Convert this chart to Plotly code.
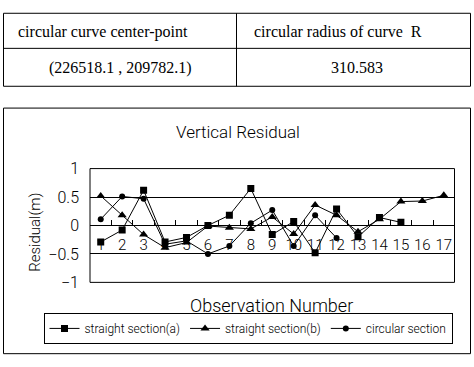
import plotly.graph_objects as go

W, H = 474, 367

obs = list(range(1, 18))
tick_labels = [str(i) for i in obs]
straight_a = [-0.29, -0.08, 0.62, -0.29, -0.21, 0.0, 0.18, 0.65, -0.16, 0.07, -0.48, 0.29, -0.2, 0.14, 0.055, None, None]
straight_b = [0.52, 0.18, -0.16, -0.39, -0.3, -0.01, -0.04, -0.06, 0.15, -0.15, 0.36, 0.18, -0.11, 0.11, 0.42, 0.43, 0.53]
circular = [0.11, 0.51, 0.47, -0.33, -0.27, -0.5, -0.36, 0.04, 0.27, -0.36, 0.18, -0.22, None, None, None, None, None]

table_header = ["circular curve center-point", "circular radius of curve  R"]
table_values = ["(226518.1 , 209782.1)", "310.583"]

SANS = "Roboto"
SERIF = "Liberation Serif"


def nf(size):
    return dict(family=SANS, size=size, color="black", weight=300)


def px(x):
    return x / W


def py(y):
    return 1 - y / H


plot_l, plot_r, plot_t, plot_b = 90, 454.5, 168.3, 288.3
dom_x = [px(plot_l), px(plot_r)]
dom_y = [py(plot_b), py(plot_t)]
zero_pos = dom_y[0] + (dom_y[1] - dom_y[0]) / 2

fig = go.Figure()
series = [
    ("straight section(a)", straight_a, "square", 7),
    ("straight section(b)", straight_b, "triangle-up", 8),
    ("circular section", circular, "circle", 6),
]
for name, vals, sym, size in series:
    fig.add_trace(go.Scatter(
        x=obs, y=vals, name=name, mode="lines+markers",
        line=dict(color="black", width=1),
        marker=dict(symbol=sym, size=size, color="black"),
        connectgaps=False,
    ))

shapes = [
    dict(type="rect", xref="paper", yref="paper", x0=px(3.5), x1=px(470.5), y0=py(81.5), y1=py(4.5),
         line=dict(color="black", width=1)),
    dict(type="line", xref="paper", yref="paper", x0=px(3.5), x1=px(470.5), y0=py(41.5), y1=py(41.5),
         line=dict(color="black", width=1)),
    dict(type="line", xref="paper", yref="paper", x0=px(236.5), x1=px(236.5), y0=py(81.5), y1=py(4.5),
         line=dict(color="black", width=1)),
    dict(type="rect", xref="paper", yref="paper", x0=px(3.5), x1=px(470.5), y0=py(363.5), y1=py(104.5),
         line=dict(color="black", width=1)),
    dict(type="rect", xref="x domain", yref="y domain", x0=0, x1=1, y0=0, y1=1,
         line=dict(color="black", width=1)),
]

annotations = [
    dict(text=table_header[0], x=px(103), y=py(24)),
    dict(text=table_header[1], x=px(338), y=py(24)),
    dict(text=table_values[0], x=px(120), y=py(62)),
    dict(text=table_values[1], x=px(357), y=py(62)),
]
for a in annotations:
    a.update(xref="paper", yref="paper", showarrow=False, xanchor="center", yanchor="middle",
             font=dict(family=SERIF, size=16, color="black"))

annotations += [
    dict(text="Vertical Residual", x=px(237.5), y=py(130), xref="paper", yref="paper", showarrow=False,
         xanchor="center", yanchor="middle", font=nf(17)),
    dict(text="Observation Number", x=px(271.7), y=py(313), xref="paper", yref="paper", showarrow=False,
         xanchor="center", yanchor="middle", font=nf(18)),
    dict(text="Residual(m)", x=px(35), y=py(236), xref="paper", yref="paper", showarrow=False,
         textangle=-90, xanchor="center", yanchor="middle", font=nf(15)),
]

fig.update_layout(
    width=W, height=H, autosize=False,
    margin=dict(l=0, r=0, t=0, b=0),
    paper_bgcolor="white", plot_bgcolor="white",
    shapes=shapes, annotations=annotations,
    showlegend=True,
    legend=dict(
        orientation="h", x=px(43.5), y=py(320.5), xanchor="left", yanchor="top",
        bordercolor="black", borderwidth=1, bgcolor="white",
        font=nf(12), itemwidth=30, tracegroupgap=0,
    ),
    xaxis=dict(
        domain=dom_x, range=[0.5, 17.5], anchor="free", position=zero_pos,
        tickvals=obs, ticktext=tick_labels, ticks="", tickangle=0,
        showline=False, showgrid=False, zeroline=False,
        tickfont=nf(15), ticklabelstandoff=9,
    ),
    xaxis2=dict(
        domain=dom_x, range=[0.5, 17.5], overlaying="x", anchor="free", position=zero_pos,
        tickvals=[i + 0.5 for i in obs[:-1]], ticks="inside", ticklen=5, tickcolor="black", tickwidth=1,
        showticklabels=False, showline=False, showgrid=False, zeroline=False,
    ),
    yaxis=dict(
        domain=dom_y, range=[-1, 1], dtick=0.5, tick0=0,
        showgrid=True, gridcolor="black", gridwidth=1,
        zeroline=True, zerolinecolor="black", zerolinewidth=1,
        showline=False, ticks="", ticklabelstandoff=10,
        tickfont=nf(16),
    ),
)
fig.add_trace(go.Scatter(x=[None], y=[None], xaxis="x2", showlegend=False, hoverinfo="skip"))

fig.write_html("out.html", config={"displayModeBar": False},
               post_script="document.body.style.margin='0';document.body.style.overflow='hidden';")
